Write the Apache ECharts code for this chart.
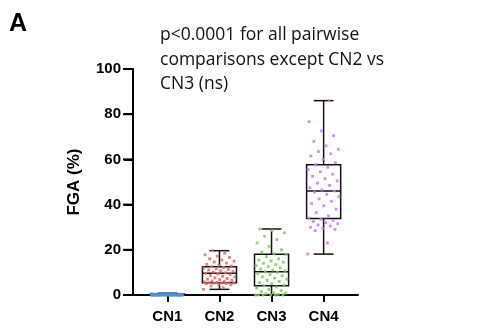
<!DOCTYPE html>
<html>
<head>
<meta charset="utf-8">
<script src="https://cdn.jsdelivr.net/npm/echarts@6/dist/echarts.min.js"></script>
<style>
  html, body { margin: 0; padding: 0; background: #fff; }
  #main { width: 494px; height: 333px; }
</style>
</head>
<body>
<div id="main"></div>
<script>
// groups (copy number class)
var categories = ['CN1', 'CN2', 'CN3', 'CN4']
var colors = ['#4f8fca', '#e06a6a', '#82c65e', '#c97af0']

// box stats: min, Q1, median, Q3, max
var boxMin = [0, 2.5, 0, 18.1]
var boxQ1 = [0, 5.4, 4.1, 33.9]
var boxMedian = [0.2, 9.6, 10.3, 46]
var boxQ3 = [0.4, 12.5, 18, 57.6]
var boxMax = [0.8, 19.6, 29.2, 86]

// individual FGA values (%)
var cn1Values = [0, 0, 0, 0, 0, 0, 0, 0, 0, 0, 0, 0, 0, 0, 0, 0, 0, 0, 0, 0,
  0.1, 0.1, 0.1, 0.1, 0.1, 0.2, 0.2, 0.2, 0.2, 0.3, 0.3, 0.3, 0.4, 0.4, 0.5, 0.6]
var cn2Values = [2.5, 3.2, 4.0, 4.5, 4.8, 5.0, 5.1, 5.2, 5.3, 5.4, 5.5, 5.5, 5.6, 5.8, 6.0,
  6.2, 6.5, 6.8, 7.0, 7.3, 7.6, 8.0, 8.3, 8.6, 9.0, 9.3, 9.6, 9.8, 10.1, 10.4, 10.7, 11.0,
  11.3, 11.6, 11.9, 12.2, 12.5, 12.8, 13.2, 13.6, 14.1, 14.6, 15.0, 15.5, 16.0, 16.6, 17.2,
  17.8, 18.5, 19.6]
var cn3Values = [0, 0, 0, 0, 0, 0, 0.3, 0.5, 0.8, 1.0, 1.5, 2.0, 2.5, 3.0, 3.5, 4.1, 4.5,
  5.0, 5.5, 6.0, 6.5, 7.0, 7.5, 8.0, 8.5, 9.0, 9.5, 10.0, 10.3, 10.6, 11.0, 11.5, 12.0, 12.5,
  13.0, 13.5, 14.0, 14.5, 15.0, 15.5, 16.0, 17.0, 18.0, 18.2, 19.0, 20.0, 21.5, 23.0, 24.5,
  26.0, 27.5, 28.5, 29.2]
var cn4Values = [18.1, 23, 28.5, 29, 29.5, 30, 30.5, 31, 31.5, 32, 32.5, 33, 33.5, 34, 35,
  36.5, 38, 39.5, 40.5, 41.5, 42.5, 43.5, 44.5, 45.5, 46, 46.5, 47.5, 48.5, 49.5, 50.5, 51.5,
  52.5, 53.5, 54.5, 55.5, 56.5, 57.6, 58.5, 60, 61.5, 62.5, 63.5, 64.5, 66, 68, 70.5, 72.6,
  76.7, 86]
var groupValues = [cn1Values, cn2Values, cn3Values, cn4Values]

var yTicks = [0, 20, 40, 60, 80, 100]
var noteLines = ['p<0.0001 for all pairwise', 'comparisons except CN2 vs', 'CN3 (ns)']

var X_MIN = 0.34
var X_MAX = 4.66
var BOX_W = 0.654
var CAP_W = 0.38
var FONT = 'Liberation Sans, Arial, sans-serif'

var boxData = categories.map(function (c, i) {
  return [i + 1, boxMin[i], boxQ1[i], boxMedian[i], boxQ3[i], boxMax[i]]
})

// spread points sideways inside the box width (beeswarm-ish jitter)
var pointSeries = groupValues.map(function (vals, g) {
  return {
    type: 'scatter',
    name: categories[g],
    symbol: 'rect',
    symbolSize: g === 0 ? 3 : 2.8,
    itemStyle: { color: colors[g], opacity: 0.85 },
    z: 3,
    data: vals.map(function (v, i) {
      var off = ((i * 0.618034) % 1 - 0.5) * (BOX_W - 0.04)
      return [g + 1 + off, v]
    })
  }
})

function renderBox (params, api) {
  var x = api.value(0)
  var pMin = api.coord([x, api.value(1)])
  var pQ1 = api.coord([x, api.value(2)])
  var pMed = api.coord([x, api.value(3)])
  var pQ3 = api.coord([x, api.value(4)])
  var pMax = api.coord([x, api.value(5)])
  var half = api.size([BOX_W, 0])[0] / 2
  var cap = api.size([CAP_W, 0])[0] / 2
  var cx = pMed[0]
  var st = { stroke: '#111', lineWidth: 1.5, fill: null }
  return {
    type: 'group',
    children: [
      { type: 'line', shape: { x1: cx, y1: pQ3[1], x2: cx, y2: pMax[1] }, style: st },
      { type: 'line', shape: { x1: cx, y1: pQ1[1], x2: cx, y2: pMin[1] }, style: st },
      { type: 'line', shape: { x1: cx - cap, y1: pMax[1], x2: cx + cap, y2: pMax[1] }, style: st },
      { type: 'line', shape: { x1: cx - cap, y1: pMin[1], x2: cx + cap, y2: pMin[1] }, style: st },
      { type: 'rect', shape: { x: cx - half, y: pQ3[1], width: half * 2, height: pQ1[1] - pQ3[1] }, style: st },
      { type: 'line', shape: { x1: cx - half, y1: pMed[1], x2: cx + half, y2: pMed[1] }, style: st }
    ]
  }
}

// y-axis tick marks, placed through the y scale
function renderYTick (params, api) {
  var p = api.coord([X_MIN, api.value(1)])
  return {
    type: 'rect',
    shape: { x: p[0] - 10, y: p[1] - 1, width: 10, height: 2 },
    style: { fill: '#000' }
  }
}

var myChart = echarts.init(document.getElementById('main'))
myChart.setOption({
  animation: false,
  textStyle: { fontFamily: FONT },
  grid: { left: 133, right: 136, top: 69, bottom: 38 },
  graphic: [{
    type: 'text',
    left: 9,
    top: 12,
    style: { text: 'A', font: 'bold 25px ' + FONT, fill: '#000' }
  }, {
    type: 'text',
    left: 160,
    top: 23,
    style: {
      text: noteLines.join('\n'),
      font: '17.5px "Open Sans", sans-serif',
      lineHeight: 24.5,
      fill: '#111'
    }
  }],
  xAxis: {
    type: 'value',
    min: X_MIN,
    max: X_MAX,
    splitLine: { show: false },
    axisLine: { onZero: false, lineStyle: { color: '#000', width: 2 } },
    axisTick: { customValues: [1, 2, 3, 4], length: 7, lineStyle: { color: '#000', width: 2 } },
    axisLabel: {
      customValues: [1, 2, 3, 4],
      margin: 14,
      color: '#000',
      fontWeight: 'bold',
      fontSize: 15,
      formatter: function (v) { return categories[Math.round(v) - 1] }
    }
  },
  yAxis: {
    type: 'value',
    min: 0,
    max: 100,
    interval: 20,
    name: 'FGA (%)',
    nameLocation: 'middle',
    nameGap: 50,
    nameTextStyle: { color: '#000', fontWeight: 'bold', fontSize: 17 },
    splitLine: { show: false },
    axisLine: { show: true, onZero: false, lineStyle: { color: '#000', width: 2 } },
    axisTick: { show: true, inside: false, interval: 0, length: 9, lineStyle: { color: '#000', width: 2 } },
    axisLabel: {
      margin: 12,
      color: '#000',
      fontWeight: 'bold',
      fontSize: 15
    }
  },
  series: [{
    type: 'custom',
    renderItem: renderBox,
    data: boxData,
    z: 2,
    silent: true
  }, {
    type: 'custom',
    renderItem: renderYTick,
    data: yTicks.map(function (t) { return [X_MIN, t] }),
    clip: false,
    z: 5,
    silent: true
  }].concat(pointSeries)
})
</script>
</body>
</html>
